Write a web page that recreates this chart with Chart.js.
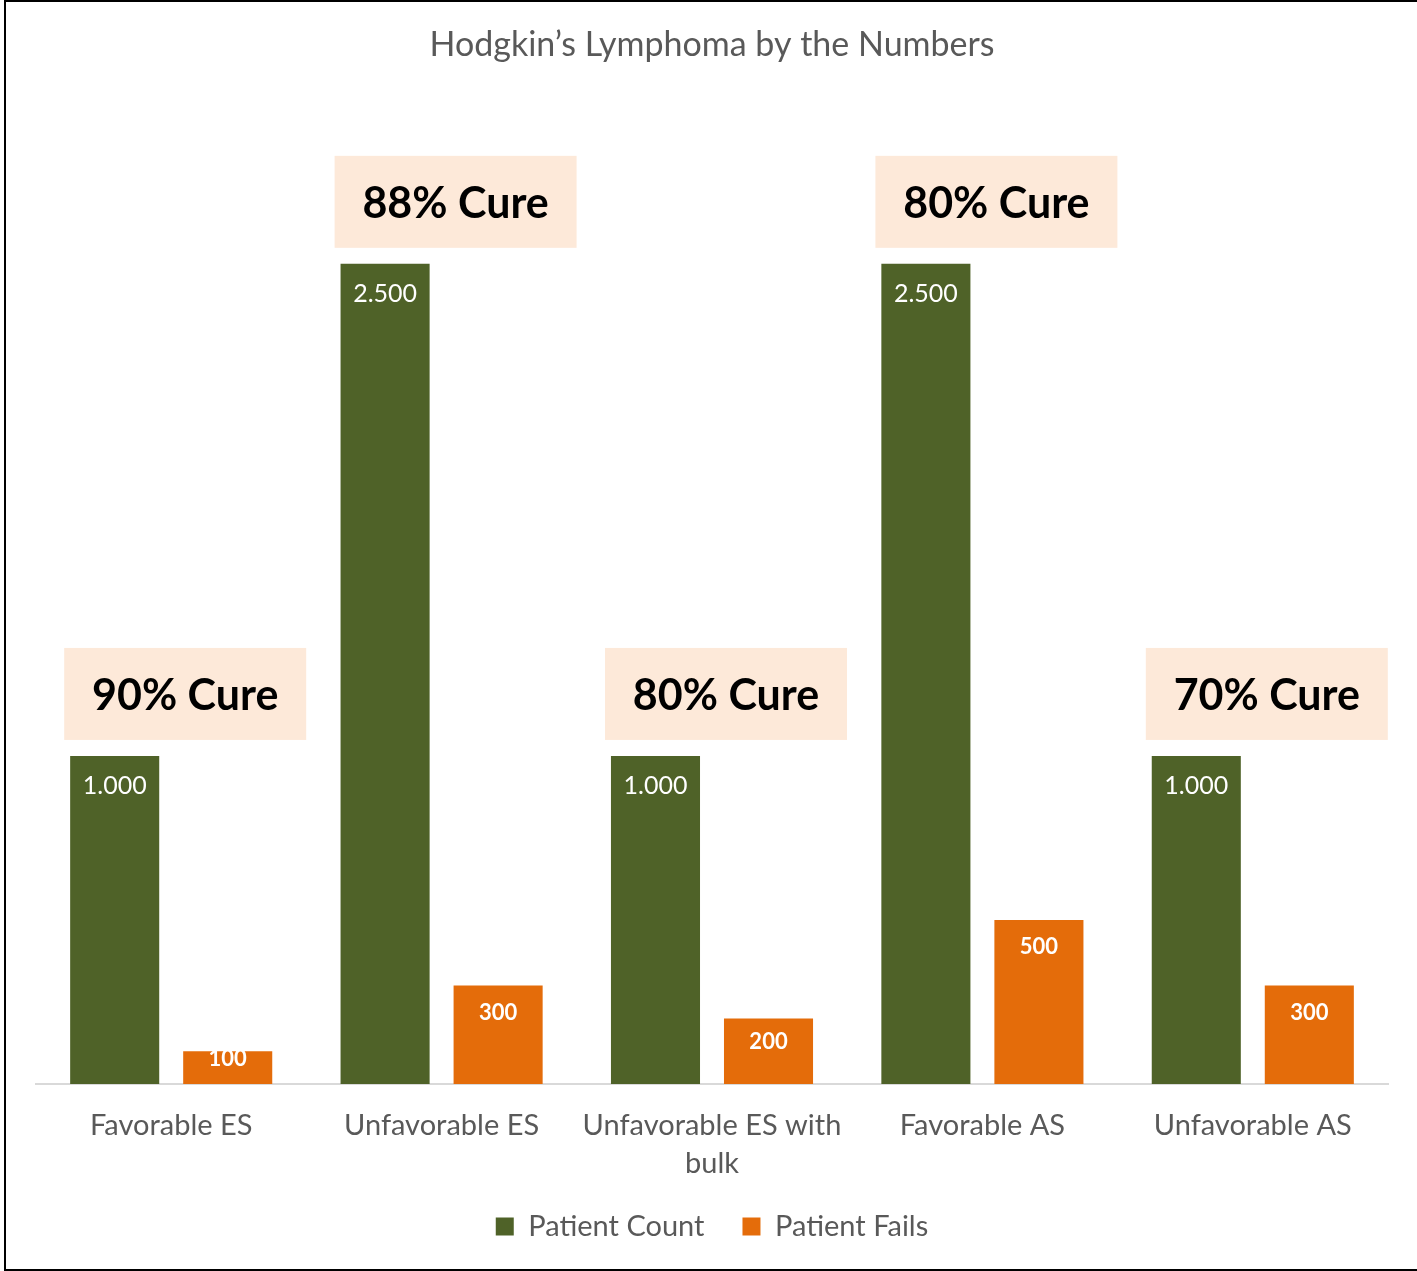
<!DOCTYPE html>
<html>
<head>
<meta charset="utf-8">
<script src="https://cdn.jsdelivr.net/npm/chart.js@4.4.1/dist/chart.umd.min.js"></script>
<style>
    body { margin: 0; background: #fff; overflow: hidden; }
    #marco { position: relative; width: 1417px; height: 1271px; }
    #borde {
        position: absolute; left: 4px; top: 0; width: 1430px; height: 1267px;
        border: 2px solid #000; pointer-events: none;
    }
</style>
</head>
<body>
<div id="marco">
    <canvas id="grafico" width="1417" height="1271"></canvas>
    <div id="borde"></div>
</div>
<script>
// Datos del gráfico
const categorias = ['Favorable ES', 'Unfavorable ES', ['Unfavorable ES with', 'bulk'], 'Favorable AS', 'Unfavorable AS'];
const pacientes = [1000, 2500, 1000, 2500, 1000];
const fallos = [100, 300, 200, 500, 300];
const curacion = ['90% Cure', '88% Cure', '80% Cure', '80% Cure', '70% Cure'];

const VERDE = '#4f6228';
const NARANJA = '#e46c0a';
const GRIS = '#595959';
const FUENTE = 'Lato, "Noto Sans", sans-serif';

// 1000 -> "1.000"
function formato(n) {
    return String(n).replace(/\B(?=(\d{3})+(?!\d))/g, '.');
}

// Etiquetas de valor y recuadros de "Cure"
const etiquetas = {
    id: 'etiquetas',
    afterDatasetsDraw(chart) {
        const ctx = chart.ctx;
        ctx.save();
        ctx.textAlign = 'center';
        ctx.textBaseline = 'middle';

        chart.data.datasets.forEach((ds, d) => {
            const meta = chart.getDatasetMeta(d);
            meta.data.forEach((bar, i) => {
                const alto = bar.base - bar.y;
                const desp = Math.min(d === 0 ? 30 : 27, alto / 2 - 9);
                ctx.fillStyle = '#fff';
                ctx.font = d === 0 ? '25px ' + FUENTE : 'bold 22px ' + FUENTE;
                ctx.fillText(formato(ds.data[i]), bar.x, bar.y + desp);
            });
        });

        // recuadros sobre la barra verde
        const barras = chart.getDatasetMeta(0).data;
        const xs = chart.scales.x;
        barras.forEach((bar, i) => {
            const cx = xs.getPixelForValue(i) + 14;
            const ancho = 242, alto = 92;
            const abajo = bar.y - 16;
            ctx.fillStyle = '#fde9d9';
            ctx.fillRect(cx - ancho / 2, abajo - alto, ancho, alto);
            ctx.fillStyle = '#000';
            ctx.font = 'bold 43px ' + FUENTE;
            ctx.fillText(curacion[i], cx, abajo - alto / 2 + 2);
        });
        ctx.restore();
    }
};

const ctx = document.getElementById('grafico').getContext('2d');
new Chart(ctx, {
    type: 'bar',
    data: {
        labels: categorias,
        datasets: [
            { label: 'Patient Count', data: pacientes, backgroundColor: VERDE },
            { label: 'Patient Fails', data: fallos, backgroundColor: NARANJA }
        ]
    },
    options: {
        responsive: false,
        animation: false,
        categoryPercentage: 0.836,
        barPercentage: 0.788,
        layout: { padding: { left: 36, right: 29, top: 0, bottom: 20 } },
        scales: {
            y: { display: false, min: 0, max: 3000 },
            x: {
                grid: { display: false },
                border: { display: true, color: '#d9d9d9', width: 2 },
                ticks: {
                    color: GRIS,
                    padding: 15,
                    font: { family: FUENTE, size: 29, lineHeight: 1.31 },
                    maxRotation: 0,
                    autoSkip: false
                },
                // el eje ocupa menos alto para acercar la leyenda
                afterFit: function (scale) {
                    scale.height = 90;
                }
            }
        },
        plugins: {
            title: {
                display: true,
                text: 'Hodgkin\u2019s Lymphoma by the Numbers',
                color: GRIS,
                font: { family: FUENTE, size: 34, weight: 'normal', lineHeight: 1.2 },
                padding: { top: 25, bottom: 34 }
            },
            legend: {
                position: 'bottom',
                labels: {
                    color: GRIS,
                    boxWidth: 18,
                    boxHeight: 18,
                    padding: 38,
                    font: { family: FUENTE, size: 29 }
                }
            },
            tooltip: { enabled: false }
        }
    },
    plugins: [etiquetas]
});
</script>
</body>
</html>
